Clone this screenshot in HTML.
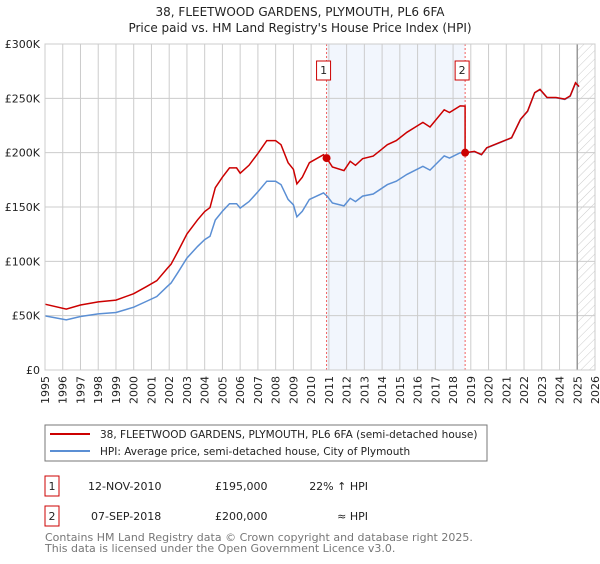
<!DOCTYPE html>
<html><head><meta charset="utf-8"><style>
body{margin:0;background:#fff;font-family:"DejaVu Sans","Liberation Sans",sans-serif;}
svg text{font-family:"DejaVu Sans","Liberation Sans",sans-serif;}
</style></head><body>
<svg id="chart" width="600" height="560">
<defs><pattern id="hatch" width="6" height="6" patternUnits="userSpaceOnUse" patternTransform="rotate(45)"><line x1="0" y1="0" x2="0" y2="6" stroke="#ccc" stroke-width="1"/></pattern></defs>
<text x="300" y="16" text-anchor="middle" font-size="12" fill="#222">38, FLEETWOOD GARDENS, PLYMOUTH, PL6 6FA</text>
<text x="300" y="32" text-anchor="middle" font-size="12" fill="#222">Price paid vs. HM Land Registry's House Price Index (HPI)</text>
<g id="plot"></g>
<rect x="45" y="425" width="442" height="36" fill="#fff" stroke="#777"/>
<line x1="50" y1="434" x2="90" y2="434" stroke="#cc0000" stroke-width="2"/>
<text x="100" y="438" font-size="10.5" fill="#222">38, FLEETWOOD GARDENS, PLYMOUTH, PL6 6FA (semi-detached house)</text>
<line x1="50" y1="451" x2="90" y2="451" stroke="#5b8fd4" stroke-width="2"/>
<text x="100" y="455" font-size="10.5" fill="#222">HPI: Average price, semi-detached house, City of Plymouth</text>
<rect x="45" y="476" width="14" height="20" fill="#fff" stroke="#cc0000"/>
<text x="52" y="490" text-anchor="middle" font-size="11" fill="#222">1</text>
<text x="88" y="490" font-size="11" fill="#222">12-NOV-2010</text>
<text x="215" y="490" font-size="11" fill="#222">£195,000</text>
<text x="368" y="490" text-anchor="end" font-size="11" fill="#222">22% ↑ HPI</text>
<rect x="45" y="506" width="14" height="20" fill="#fff" stroke="#cc0000"/>
<text x="52" y="520" text-anchor="middle" font-size="11" fill="#222">2</text>
<text x="91" y="520" font-size="11" fill="#222">07-SEP-2018</text>
<text x="215" y="520" font-size="11" fill="#222">£200,000</text>
<text x="368" y="520" text-anchor="end" font-size="11" fill="#222">≈ HPI</text>
<text x="45" y="541" font-size="11" fill="#777">Contains HM Land Registry data © Crown copyright and database right 2025.</text>
<text x="45" y="552" font-size="11" fill="#777">This data is licensed under the Open Government Licence v3.0.</text>
</svg>
<script>
const hpiYears=[1995,1996.2,1997,1998,1999,2000,2000.7,2001.3,2001.9,2002.1,2002.5,2003,2003.6,2004,2004.3,2004.6,2005,2005.4,2005.8,2006,2006.5,2007,2007.5,2008,2008.3,2008.7,2009,2009.2,2009.5,2009.9,2010.7,2010.9,2011.2,2011.85,2012.2,2012.5,2012.9,2013.5,2014.3,2014.8,2015.4,2016.3,2016.7,2017.5,2017.8,2018.4,2018.68,2019.2,2019.6,2019.9,2020.6,2021.3,2021.8,2022.2,2022.6,2022.9,2023.3,2023.8,2024.3,2024.6,2024.9,2025.1];
const hpiValues=[49.8,46.1,49.2,51.6,52.9,57.8,63,67.6,77,80,90,103,113.7,120,123,138,146,153,153,149,155,164,173.7,173.7,170.6,157,152,141,146,157,163,160,153.7,151,158,155,160,162,170.6,173.7,180,187.5,184,197,195,200,199.8,201,198,204.4,209,213.6,230.5,238,255,258,250.5,250.5,249,252,264,260.6];
const saleDates=[2010.87,2018.68];
const salePrices=[195,200];
const yTicks=[0,50,100,150,200,250,300];
const yTickLabels=["£0","£50K","£100K","£150K","£200K","£250K","£300K"];
const xTicks=[];for(let y=1995;y<=2026;y++)xTicks.push(y);
const X0=45,X1=595,Y0=370,Y1=44;
const xs=t=>X0+(t-1995)/31*(X1-X0);
const ys=v=>Y0-v/300*(Y0-Y1);
const NS="http://www.w3.org/2000/svg";
const g=document.getElementById('plot');
function mk(tag,at){const e=document.createElementNS(NS,tag);for(const k in at)e.setAttribute(k,at[k]);g.appendChild(e);return e;}
function hpiAt(t){for(let i=1;i<hpiYears.length;i++){if(t<=hpiYears[i]){const f=(t-hpiYears[i-1])/(hpiYears[i]-hpiYears[i-1]);return hpiValues[i-1]+f*(hpiValues[i]-hpiValues[i-1]);}}return hpiValues[hpiValues.length-1];}
let e;
e=mk('rect',{x:xs(saleDates[0]),y:Y1,width:xs(saleDates[1])-xs(saleDates[0]),height:Y0-Y1,fill:'#f2f6fd'});


e=mk('rect',{x:xs(2025.0),y:Y1,width:X1-xs(2025.0),height:Y0-Y1,fill:'url(#hatch)'});


xTicks.forEach(t=>{
 e=mk('line',{x1:xs(t),x2:xs(t),y1:Y1,y2:Y0,stroke:'#ccc','stroke-width':1});
 
 
 e=mk('text',{x:0,y:0,transform:`translate(${xs(t)+4},376) rotate(-90)`,'text-anchor':'end','font-size':11,fill:'#222'});
 e.textContent=t;
 
 
});
yTicks.forEach((v,i)=>{
 e=mk('line',{x1:X0,x2:X1,y1:ys(v),y2:ys(v),stroke:'#ccc','stroke-width':1});
 
 
 e=mk('text',{x:40,y:ys(v)+4,'text-anchor':'end','font-size':11,fill:'#222'});
 e.textContent=yTickLabels[i];
 
 
});
e=mk('line',{x1:xs(2025.0),x2:xs(2025.0),y1:Y1,y2:Y0,stroke:'#999','stroke-width':1.5});


saleDates.forEach((d,i)=>{
 e=mk('line',{x1:xs(d),x2:xs(d),y1:Y1,y2:Y0,stroke:'#f06060','stroke-width':1,'stroke-dasharray':'2,2'});
 
 
});
let p=hpiYears.map((t,i)=>(i?'L':'M')+xs(t).toFixed(1)+','+ys(hpiValues[i]).toFixed(1)).join('');
e=mk('path',{d:p,fill:'none',stroke:'#5b8fd4','stroke-width':1.5});


const f1=salePrices[0]/hpiAt(saleDates[0]),f2=salePrices[1]/hpiAt(saleDates[1]);
let pts=[];
hpiYears.forEach((t,i)=>{if(t<saleDates[1])pts.push([t,hpiValues[i]*f1]);});
pts.push([saleDates[1],hpiAt(saleDates[1])*f1]);
pts.push([saleDates[1],salePrices[1]]);
hpiYears.forEach((t,i)=>{if(t>saleDates[1])pts.push([t,hpiValues[i]*f2]);});
p=pts.map((q,i)=>(i?'L':'M')+xs(q[0]).toFixed(1)+','+ys(q[1]).toFixed(1)).join('');
e=mk('path',{d:p,fill:'none',stroke:'#cc0000','stroke-width':1.5});


saleDates.forEach((d,i)=>{
 e=mk('circle',{cx:xs(d),cy:ys(salePrices[i]),r:4,fill:'#cc0000'});
 
 
 const bx=xs(d)-10;
 e=mk('rect',{x:bx,y:61,width:14,height:19,fill:'#fff',stroke:'#cc0000'});
 
 
 e=mk('text',{x:bx+7,y:74,'text-anchor':'middle','font-size':11,fill:'#222'});
 e.textContent=String(i+1);
 
 
});
e=mk('rect',{x:X0,y:Y1,width:X1-X0,height:Y0-Y1,fill:'none',stroke:'#ccc'});


</script>
</body></html>
